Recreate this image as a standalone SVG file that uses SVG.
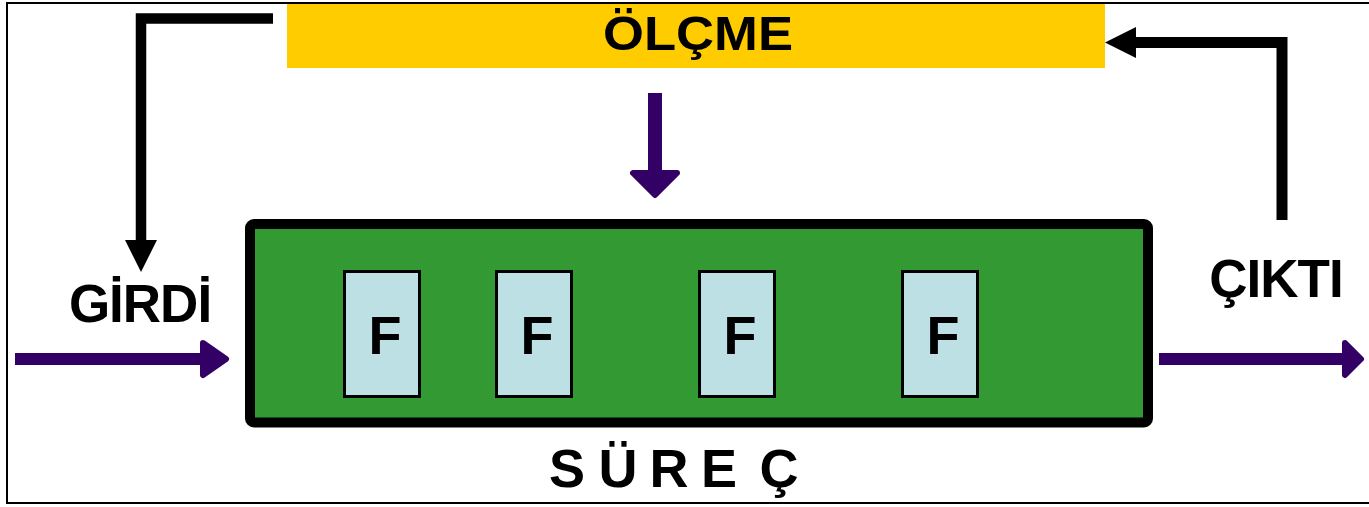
<svg xmlns="http://www.w3.org/2000/svg" width="1369" height="507" viewBox="0 0 1369 507">
<defs>
<style>
.lbl{font-family:"Liberation Sans",Arial,sans-serif;font-weight:bold;fill:#000}
.fbox{fill:#BCE0E3;stroke:#000;stroke-width:3}
.ftxt{font-family:"Liberation Sans",Arial,sans-serif;font-weight:bold;font-size:54px;fill:#000;text-anchor:middle}
.blk{fill:none;stroke:#000;stroke-linejoin:miter}
.pur{fill:#330066}
.purhead{fill:#330066;stroke:#330066;stroke-width:6;stroke-linejoin:round}
</style>
</defs>
<rect x="0" y="0" width="1369" height="507" fill="#fff"/>
<rect x="7" y="3" width="1375" height="500" fill="none" stroke="#000" stroke-width="2"/>

<g id="olcme">
<rect x="287" y="4" width="818" height="64" fill="#FFCC00"/>
<text class="lbl" x="698" y="50" font-size="48" text-anchor="middle" textLength="190" lengthAdjust="spacingAndGlyphs">ÖLÇME</text>
</g>

<g id="surec">
<rect x="250" y="224" width="898" height="198.5" rx="4" fill="#339933" stroke="#000" stroke-width="10"/>
<text class="lbl" font-size="54" text-anchor="middle" x="567 618 669 719 779" y="487">SÜREÇ</text>
</g>

<g id="f1"><rect class="fbox" x="344.5" y="271.5" width="75" height="125"/><text class="ftxt" x="385" y="354">F</text></g>
<g id="f2"><rect class="fbox" x="496.5" y="271.5" width="75" height="125"/><text class="ftxt" x="537" y="354">F</text></g>
<g id="f3"><rect class="fbox" x="699.5" y="271.5" width="75" height="125"/><text class="ftxt" x="740" y="354">F</text></g>
<g id="f4"><rect class="fbox" x="902.5" y="271.5" width="75" height="125"/><text class="ftxt" x="943" y="354">F</text></g>

<g id="girdi"><text class="lbl" x="140" y="322" font-size="53" text-anchor="middle" letter-spacing="-1">GİRDİ</text></g>
<g id="cikti"><text class="lbl" x="1276" y="297" font-size="53" text-anchor="middle" letter-spacing="-1">ÇIKTI</text></g>

<g id="connectors">
<path class="blk" d="M273,18.5 H141 V242" stroke-width="10.5"/>
<polygon points="125,240 157,240 141,272" fill="#000"/>
<path class="blk" d="M1282,220 V42.5 H1132" stroke-width="11"/>
<polygon points="1136,27 1136,58 1105,42.5" fill="#000"/>
<rect class="pur" x="648" y="93" width="14" height="82"/>
<polygon class="purhead" points="633,173 677,173 655,195"/>
<rect class="pur" x="15" y="353" width="190" height="12"/>
<polygon class="purhead" points="203,343 226,359 203,375"/>
<rect class="pur" x="1159" y="353" width="188" height="12"/>
<polygon class="purhead" points="1345,343 1361,359 1345,375"/>
</g>
</svg>
